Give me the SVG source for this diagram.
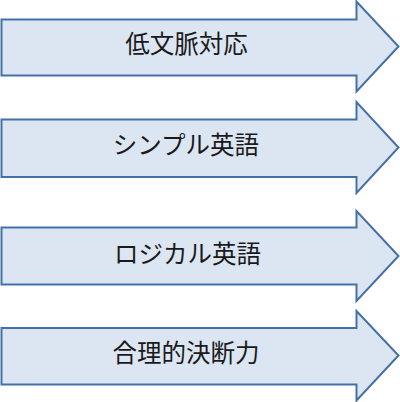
<svg xmlns="http://www.w3.org/2000/svg" width="400" height="402" viewBox="0 0 400 402">
<style>
.arr{fill:#DCE6F2;stroke:#4470A5;stroke-width:2;stroke-linejoin:miter}
.lbl{font-family:"Noto Sans CJK JP","Noto Sans CJK SC",sans-serif;font-size:24.5px;fill:#1a1a1a;text-anchor:middle}
</style>
<rect width="400" height="402" fill="#ffffff"/>
<g id="node1">
<path class="arr" d="M1.5,19.5 H356.5 V1.5 L398.5,46.5 L356.5,91.5 V75.5 H1.5 Z"/>
<text class="lbl" x="186.5" y="53">低文脈対応</text>
</g>
<g id="node2">
<path class="arr" d="M1.5,119.5 H356.5 V102 L398.5,147.5 L356.5,193 V177 H1.5 Z"/>
<text class="lbl" x="186" y="154">シンプル英語</text>
</g>
<g id="node3">
<path class="arr" d="M1.5,227.5 H356.5 V211 L398.5,256 L356.5,301 V284.5 H1.5 Z"/>
<text class="lbl" x="187.5" y="263">ロジカル英語</text>
</g>
<g id="node4">
<path class="arr" d="M1.5,328 H356.5 V311 L398.5,355.5 L356.5,400.5 V384.5 H1.5 Z"/>
<text class="lbl" x="186" y="362">合理的決断力</text>
</g>
<g id="connectors"></g>
</svg>
